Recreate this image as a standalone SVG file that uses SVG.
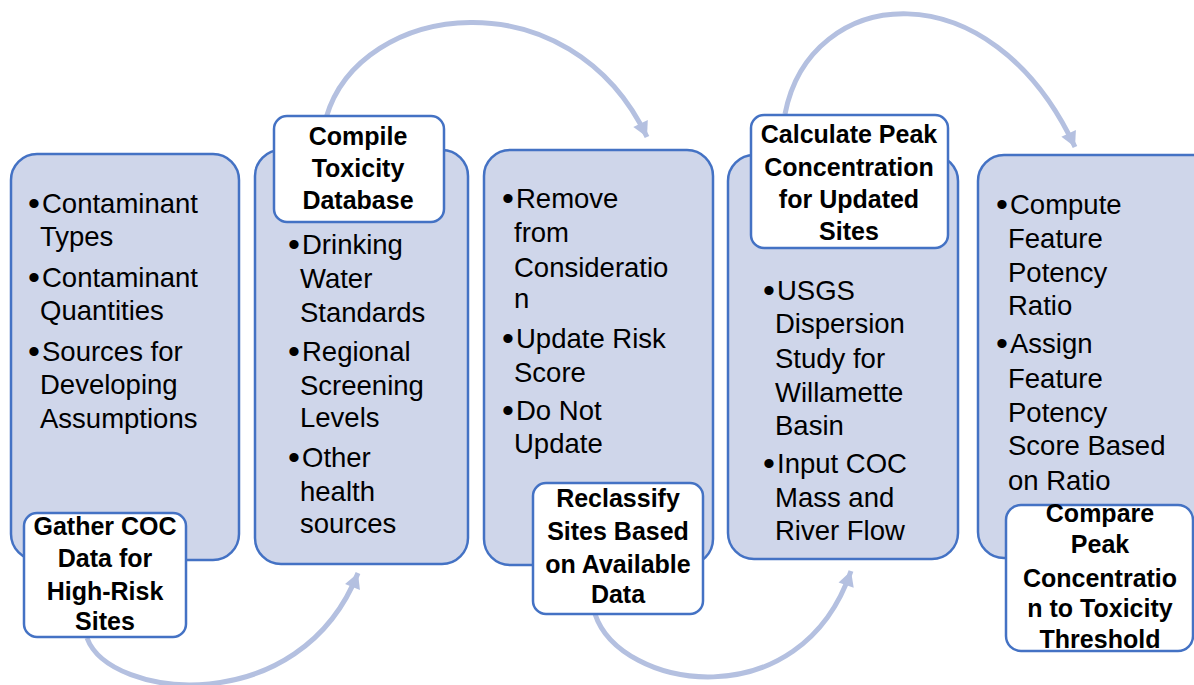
<svg xmlns="http://www.w3.org/2000/svg" width="1194" height="685" viewBox="0 0 1194 685">
<style>
.box{fill:#cfd6ea;stroke:#4472c4;stroke-width:2.5}
.lbl{fill:#ffffff;stroke:#4472c4;stroke-width:2.5}
.t{font-family:"Liberation Sans",Arial,sans-serif;font-size:27.5px;fill:#000}
.d{font-size:34px}
.b{font-family:"Liberation Sans",Arial,sans-serif;font-size:25px;font-weight:bold;fill:#000;text-anchor:middle}
.arc{fill:none;stroke:#b4c0e0;stroke-width:5;marker-end:url(#ah)}
</style>
<defs>
<marker id="ah" markerUnits="userSpaceOnUse" markerWidth="22" markerHeight="22" viewBox="0 0 22 22" refX="17" refY="11" orient="auto">
<path d="M2,3 L17,11 L2,19 Z" fill="#b4c0e0"/>
</marker>
</defs>
<rect width="1194" height="685" fill="#ffffff"/>
<g id="connectors">
<path class="arc" d="M87,638 C110,700 300,720 358,573"/>
<path class="arc" d="M326,118 C360,0 570,-25 647,137"/>
<path class="arc" d="M595,614 C620,690 800,720 851,571"/>
<path class="arc" d="M785,114 C810,-15 990,-35 1075,147"/>
</g>
<g id="node1">
<rect class="box" x="11" y="154" width="228" height="406" rx="26"/>
<text class="t"><tspan class="d" x="28" y="215">•</tspan><tspan x="42" y="213">Contaminant</tspan><tspan x="40" y="246">Types</tspan><tspan class="d" x="28" y="289">•</tspan><tspan x="42" y="287">Contaminant</tspan><tspan x="40" y="320">Quantities</tspan><tspan class="d" x="28" y="363">•</tspan><tspan x="42" y="361">Sources for</tspan><tspan x="40" y="394">Developing</tspan><tspan x="40" y="428">Assumptions</tspan></text>
<rect class="lbl" x="24" y="513" width="162" height="124" rx="13"/>
<text class="b"><tspan x="105" y="535">Gather COC</tspan><tspan x="105" y="567">Data for</tspan><tspan x="105" y="600">High-Risk</tspan><tspan x="105" y="630">Sites</tspan></text>
</g>
<g id="node2">
<rect class="box" x="255" y="150" width="213" height="414" rx="26"/>
<text class="t"><tspan class="d" x="288" y="256">•</tspan><tspan x="302" y="254">Drinking</tspan><tspan x="300" y="288">Water</tspan><tspan x="300" y="322">Standards</tspan><tspan class="d" x="288" y="363">•</tspan><tspan x="302" y="361">Regional</tspan><tspan x="300" y="395">Screening</tspan><tspan x="300" y="427">Levels</tspan><tspan class="d" x="288" y="469">•</tspan><tspan x="302" y="467">Other</tspan><tspan x="300" y="501">health</tspan><tspan x="300" y="533">sources</tspan></text>
<rect class="lbl" x="274" y="116" width="170" height="106" rx="13"/>
<text class="b"><tspan x="358" y="145">Compile</tspan><tspan x="358" y="177">Toxicity</tspan><tspan x="358" y="209">Database</tspan></text>
</g>
<g id="node3">
<rect class="box" x="484" y="150" width="229" height="415" rx="26"/>
<text class="t"><tspan class="d" x="502" y="210">•</tspan><tspan x="516" y="208">Remove</tspan><tspan x="514" y="242">from</tspan><tspan x="514" y="277">Consideratio</tspan><tspan x="514" y="308">n</tspan><tspan class="d" x="502" y="350">•</tspan><tspan x="516" y="348">Update Risk</tspan><tspan x="514" y="382">Score</tspan><tspan class="d" x="502" y="422">•</tspan><tspan x="516" y="420">Do Not</tspan><tspan x="514" y="453">Update</tspan></text>
<rect class="lbl" x="533" y="483" width="170" height="131" rx="13"/>
<text class="b"><tspan x="618" y="507">Reclassify</tspan><tspan x="618" y="540">Sites Based</tspan><tspan x="618" y="573">on Available</tspan><tspan x="618" y="603">Data</tspan></text>
</g>
<g id="node4">
<rect class="box" x="728" y="155" width="230" height="404" rx="26"/>
<text class="t"><tspan class="d" x="763" y="302">•</tspan><tspan x="777" y="300">USGS</tspan><tspan x="775" y="333">Dispersion</tspan><tspan x="775" y="368">Study for</tspan><tspan x="775" y="402">Willamette</tspan><tspan x="775" y="435">Basin</tspan><tspan class="d" x="763" y="475">•</tspan><tspan x="777" y="473">Input COC</tspan><tspan x="775" y="507">Mass and</tspan><tspan x="775" y="540">River Flow</tspan></text>
<rect class="lbl" x="751" y="115" width="197" height="133" rx="13"/>
<text class="b"><tspan x="849" y="143">Calculate Peak</tspan><tspan x="849" y="176">Concentration</tspan><tspan x="849" y="208">for Updated</tspan><tspan x="849" y="240">Sites</tspan></text>
</g>
<g id="node5">
<rect class="box" x="978" y="155" width="240" height="403" rx="26"/>
<text class="t"><tspan class="d" x="996" y="216">•</tspan><tspan x="1010" y="214">Compute</tspan><tspan x="1008" y="248">Feature</tspan><tspan x="1008" y="282">Potency</tspan><tspan x="1008" y="315">Ratio</tspan><tspan class="d" x="996" y="355">•</tspan><tspan x="1010" y="353">Assign</tspan><tspan x="1008" y="388">Feature</tspan><tspan x="1008" y="422">Potency</tspan><tspan x="1008" y="455">Score Based</tspan><tspan x="1008" y="490">on Ratio</tspan></text>
<rect class="lbl" x="1006" y="505" width="187" height="146" rx="15"/>
<text class="b"><tspan x="1100" y="522">Compare</tspan><tspan x="1100" y="553">Peak</tspan><tspan x="1100" y="587">Concentratio</tspan><tspan x="1100" y="617">n to Toxicity</tspan><tspan x="1100" y="648">Threshold</tspan></text>
</g>
</svg>
